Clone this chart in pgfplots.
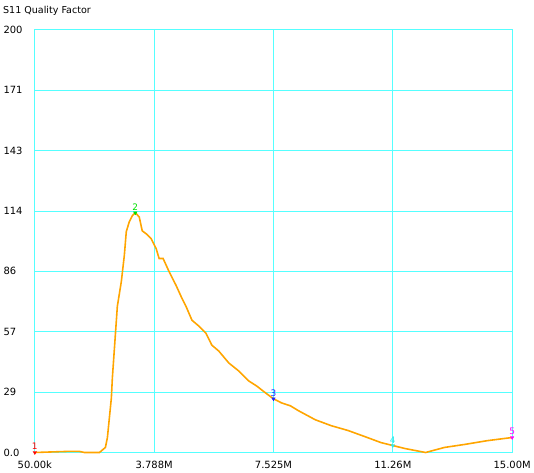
\documentclass[border=0pt]{standalone}
\usepackage{fontspec}
\setmainfont{DejaVu Sans}
\usepackage{pgfplots}
\pgfplotsset{compat=1.18}
\definecolor{gridcyan}{HTML}{55FFFF}
\definecolor{qorange}{HTML}{FFA500}
\definecolor{mk1}{HTML}{FF0000}
\definecolor{mk2}{HTML}{00E000}
\definecolor{mk3}{HTML}{2020FF}
\definecolor{mk4}{HTML}{30E8E8}
\definecolor{mk5}{HTML}{FF00FF}
\begin{document}
\begin{tikzpicture}
\begin{axis}[
    name=ax,
    width=480pt, height=425pt,
    scale only axis,
    xmin=0.05, xmax=15.0,
    ymin=0, ymax=200,
    axis line style={draw=gridcyan, line width=0.75pt},
    grid=both,
    major grid style={draw=gridcyan, line width=0.75pt},
    tick style={draw=none},
    xtick={0.05,3.7875,7.525,11.2625,15.0},
    xticklabels={50.00k,3.788M,7.525M,11.26M,15.00M},
    ytick={0,28.5714,57.1429,85.7143,114.2857,142.8571,171.4286,200},
    yticklabels={0.0,29,57,86,114,143,171,200},
    ticklabel style={font=\fontsize{10}{12}\selectfont},
    yticklabel style={anchor=west, xshift=-35pt},
    xticklabel style={yshift=-5pt},
    clip=false,
]
\addplot[qorange, line width=1.6pt] coordinates {
    (0.05,0) (1.047,0.5) (1.452,0.5) (1.607,0) (2.074,0) (2.261,2.4)
    (2.324,7.1) (2.386,16.5) (2.448,25.9) (2.479,35.3) (2.635,69.2)
    (2.760,80.9) (2.853,93.2) (2.915,104.5) (3.009,109.2) (3.102,112.0)
    (3.196,113.4) (3.320,111.5) (3.414,104.9) (3.538,103.5) (3.694,101.2)
    (3.850,96.5) (3.943,91.8) (4.068,91.8) (4.255,85.6) (4.473,79.1)
    (4.660,72.9) (4.784,69.2) (4.971,62.6) (5.189,59.8) (5.407,56.5)
    (5.594,50.8) (5.812,48.0) (6.123,42.4) (6.435,38.6) (6.746,33.9)
    (6.995,31.5) (7.276,28.2) (7.525,25.4) (7.774,23.5) (8.054,22.1)
    (8.304,19.8) (8.833,15.5) (9.331,12.7) (9.861,10.4) (10.390,7.5)
    (10.889,4.7) (11.263,3.3) (11.636,1.9) (12.290,0) (12.882,2.4)
    (13.505,3.8) (14.221,5.6) (15.0,7.1)
};
% markers
\addplot[only marks, mark=triangle*, mark size=2pt, mark options={rotate=180, fill=mk1, draw=mk1},
    nodes near coords={1}, every node near coord/.style={mk1, font=\fontsize{9}{10}\selectfont, anchor=south, yshift=-1pt}]
    coordinates {(0.05,0)};
\addplot[only marks, mark=triangle*, mark size=2pt, mark options={rotate=180, fill=mk2, draw=mk2},
    nodes near coords={2}, every node near coord/.style={mk2, font=\fontsize{9}{10}\selectfont, anchor=south, yshift=-1pt}]
    coordinates {(3.196,113.4)};
\addplot[only marks, mark=triangle*, mark size=2pt, mark options={rotate=180, fill=mk3, draw=mk3},
    nodes near coords={3}, every node near coord/.style={mk3, font=\fontsize{9}{10}\selectfont, anchor=south, yshift=-1pt}]
    coordinates {(7.525,25.4)};
\addplot[only marks, mark=triangle*, mark size=2pt, mark options={rotate=180, fill=mk4, draw=mk4},
    nodes near coords={4}, every node near coord/.style={mk4, font=\fontsize{9}{10}\selectfont, anchor=south, yshift=-1pt}]
    coordinates {(11.263,3.3)};
\addplot[only marks, mark=triangle*, mark size=2pt, mark options={rotate=180, fill=mk5, draw=mk5},
    nodes near coords={5}, every node near coord/.style={mk5, font=\fontsize{9}{10}\selectfont, anchor=south, yshift=-1pt}]
    coordinates {(15.0,7.1)};
\end{axis}
\node[anchor=north west, inner sep=0pt, font=\fontsize{9.6}{12}\selectfont]
    at ([xshift=-32pt,yshift=24pt]ax.north west) {S11 Quality Factor};
\useasboundingbox ([xshift=-35pt,yshift=-20pt]ax.south west) rectangle ([xshift=19pt,yshift=30pt]ax.north east);
\end{tikzpicture}
\end{document}
